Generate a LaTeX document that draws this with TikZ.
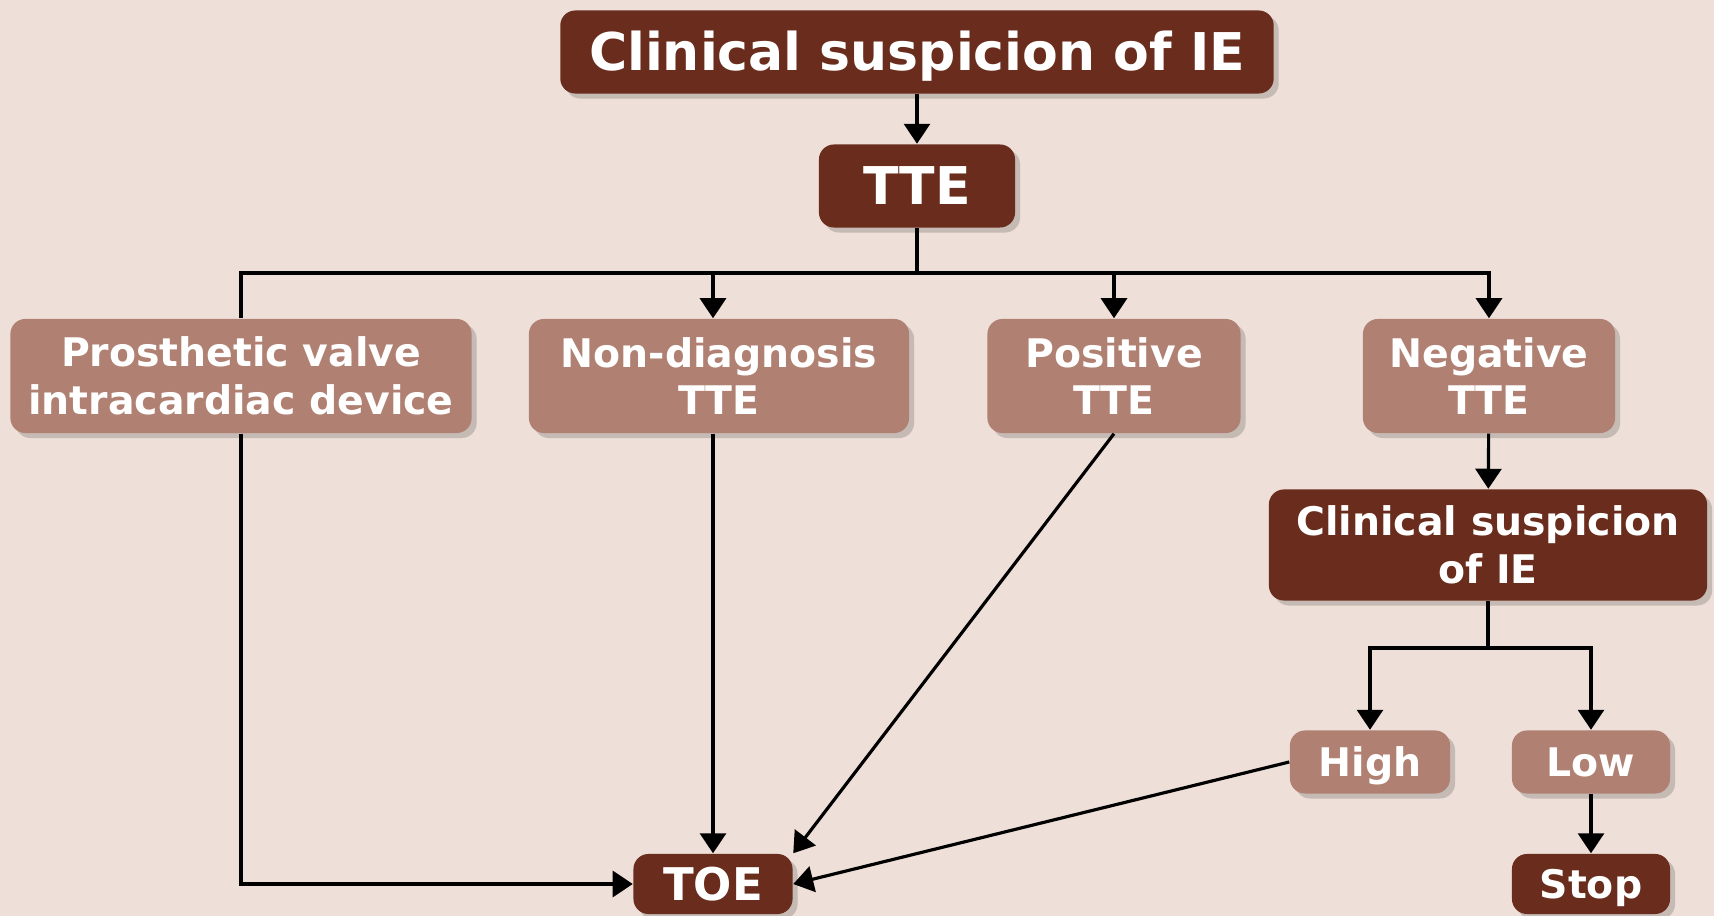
\documentclass[tikz,border=0pt]{standalone}
\usepackage{fontspec}
\setmainfont{DejaVu Sans}
\usepackage{tikz}
\usetikzlibrary{arrows.meta}
\usetikzlibrary{shadows}
\definecolor{bgcol}{HTML}{EEDFD8}
\definecolor{darkcol}{HTML}{6A2D1D}
\definecolor{lightcol}{HTML}{B08172}
\tikzset{
	darkstyle/.style={rectangle,rounded corners=0.15cm,fill=darkcol,text=white,align=center,inner sep=0pt,drop shadow={shadow xshift=0.05cm,shadow yshift=-0.05cm,opacity=0.25,fill=black!70}},
	lightstyle/.style={rectangle,rounded corners=0.15cm,fill=lightcol,text=white,align=center,inner sep=0pt,drop shadow={shadow xshift=0.05cm,shadow yshift=-0.05cm,opacity=0.25,fill=black!70}},
	bigfont/.style={font=\bfseries\fontsize{14.8}{17}\selectfont},
	smallfont/.style={font=\bfseries\fontsize{11.2}{13.6}\selectfont},
	oneline/.style={text height=#1,text depth=0pt},
	linestyle/.style={draw=black,line width=0.9pt},
	arrowstyle/.style={linestyle,-{Triangle[width=0.26cm,length=0.2cm]}}
}

\begin{document}
\begin{tikzpicture}[x=0.01cm,y=-0.01cm]
	\fill[bgcol] (0,0) rectangle (1714,916);
	\useasboundingbox (0,0) rectangle (1714,916);
	\node[darkstyle,bigfont,oneline=10.8pt,minimum width=7.13cm,minimum height=0.83cm] (susp) at (917,52) {Clinical suspicion of IE};
	\node[darkstyle,bigfont,oneline=10.8pt,minimum width=1.96cm,minimum height=0.83cm] (tte) at (917,186) {TTE};
	\node[lightstyle,smallfont,minimum width=4.61cm,minimum height=1.14cm] (prost) at (241,376) {Prosthetic valve\\intracardiac device};
	\node[lightstyle,smallfont,minimum width=3.80cm,minimum height=1.14cm] (nondiag) at (719,376) {Non-diagnosis\\TTE};
	\node[lightstyle,smallfont,minimum width=2.53cm,minimum height=1.14cm] (pos) at (1114,376) {Positive\\TTE};
	\node[lightstyle,smallfont,minimum width=2.52cm,minimum height=1.14cm] (neg) at (1489,376) {Negative\\TTE};
	\node[darkstyle,smallfont,minimum width=4.38cm,minimum height=1.11cm] (susp2) at (1488,545) {Clinical suspicion\\of IE};
	\node[lightstyle,smallfont,oneline=8.2pt,minimum width=1.60cm,minimum height=0.63cm] (high) at (1370,762) {High};
	\node[lightstyle,smallfont,oneline=8.2pt,minimum width=1.58cm,minimum height=0.63cm] (low) at (1591,762) {Low};
	\node[darkstyle,oneline=9.3pt,font=\bfseries\fontsize{12.8}{15}\selectfont,minimum width=1.59cm,minimum height=0.60cm] (toe) at (713,884) {TOE};
	\node[darkstyle,smallfont,oneline=8.2pt,minimum width=1.58cm,minimum height=0.60cm] (stop) at (1591,884) {Stop};
	\coordinate (bus) at (917,273);
	\coordinate (fork) at (1488,648);
	\draw[arrowstyle] (susp) -- (tte);
	\draw[linestyle] (tte) -- (bus);
	\draw[arrowstyle] (prost.north) |- (neg.north |- bus) -- (neg.north);
	\draw[arrowstyle] (toe |- bus) -- (toe |- nondiag.north);
	\draw[arrowstyle] (pos |- bus) -- (pos.north);
	\draw[arrowstyle] (prost.south) |- (toe.west);
	\draw[arrowstyle] (toe |- nondiag.south) -- (toe.north);
	\draw[arrowstyle] (pos.south) -- (toe.north east);
	\draw[arrowstyle] (high.west) -- (toe.east);
	\draw[arrowstyle] (neg) -- (susp2);
	\draw[linestyle] (susp2) -- (fork);
	\draw[arrowstyle] (fork) -| (high.north);
	\draw[arrowstyle] (fork) -| (low.north);
	\draw[arrowstyle] (low) -- (stop);
\end{tikzpicture}
\end{document}
